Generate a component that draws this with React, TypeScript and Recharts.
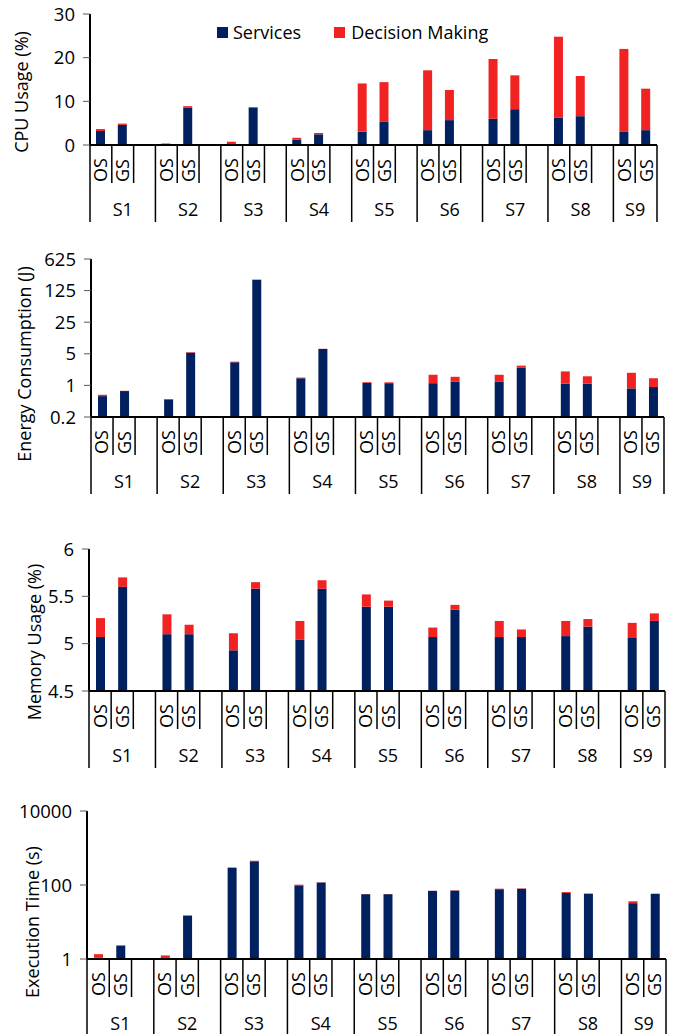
import React from "react";
import { BarChart, Bar, XAxis, YAxis, Legend } from "recharts";

const groups = ["S1", "S2", "S3", "S4", "S5", "S6", "S7", "S8", "S9"];
const variants = ["OS", "GS"];

// values are listed per scenario as OS, GS
const cpuServices = [3.2, 4.6, 0.1, 8.6, 0.2, 8.55, 1.2, 2.45, 3.05, 5.3, 3.4, 5.7, 6.0, 8.2, 6.3, 6.6, 3.0, 3.4];
const cpuDecision = [0.45, 0.3, 0.25, 0.3, 0.55, 0.15, 0.45, 0.3, 11.05, 9.1, 13.7, 6.9, 13.7, 7.75, 18.5, 9.2, 19.0, 9.5];

const energyServices = [0.58, 0.75, 0.49, 5.3, 3.25, 215, 1.44, 6.4, 1.14, 1.12, 1.12, 1.22, 1.22, 2.5, 1.09, 1.09, 0.86, 0.92];
const energyDecision = [0.04, 0.01, 0.01, 0.15, 0.1, 5, 0.05, 0.05, 0.04, 0.05, 0.6, 0.33, 0.5, 0.24, 0.95, 0.5, 1.04, 0.52];

const memoryServices = [5.07, 5.6, 5.1, 5.1, 4.93, 5.58, 5.04, 5.58, 5.39, 5.39, 5.07, 5.36, 5.07, 5.07, 5.08, 5.18, 5.06, 5.24];
const memoryDecision = [0.2, 0.1, 0.21, 0.1, 0.18, 0.07, 0.2, 0.09, 0.13, 0.065, 0.1, 0.05, 0.17, 0.08, 0.16, 0.08, 0.16, 0.08];

const timeServices = [1.1, 2.28, 1.05, 14.7, 290, 438, 98, 117, 56.5, 56.5, 69.4, 70.5, 77, 79, 61, 57.5, 32.3, 57.5];
const timeDecision = [0.25, 0.08, 0.2, 0.5, 10, 15, 4, 1, 0.5, 0.5, 0.5, 1.5, 2.5, 2, 3.5, 1.5, 4, 1];

const cpuTicks = [0, 10, 20, 30];
const energyTicks = [0.2, 1, 5, 25, 125, 625];
const memoryTicks = [4.5, 5, 5.5, 6];
const timeTicks = [1, 100, 10000];

const NAVY = "#002060";
const RED = "#F02222";
const FONT = "'Open Sans', sans-serif";

type Row = {
  group: string;
  label: string;
  services: number[] | null;
  decision: number[] | null;
};

// one slot per OS/GS bar plus an empty spacer slot between scenarios
function buildRows(services: number[], decision: number[], base: number): Row[] {
  const rows: Row[] = [];
  groups.forEach((g, gi) => {
    variants.forEach((v, vi) => {
      const s = services[gi * 2 + vi];
      const d = decision[gi * 2 + vi];
      rows.push({ group: g, label: v, services: [base, s], decision: [s, s + d] });
    });
    if (gi < groups.length - 1) {
      rows.push({ group: g, label: "", services: null, decision: null });
    }
  });
  return rows;
}

const HEAD = 14;
const AXIS_H = 80;

function CategoryTick(props: any) {
  const { x, y, payload, rows, slotW } = props;
  const i: number = payload.index;
  const row: Row = rows[i];
  const half = slotW / 2;
  const isLast = i === rows.length - 1;
  const groupEnd = row.label === "" || isLast;
  const groupStart = i === 0 || rows[i - 1].label === "";
  const span = row.group === groups[groups.length - 1] ? 2 : 3;
  const gx = x - half + (span * slotW) / 2;
  return (
    <g>
      {i === 0 && (
        <line x1={x - half} x2={x - half} y1={y} y2={y + 77} stroke="#000" strokeWidth={1.5} />
      )}
      <line
        x1={x + half}
        x2={x + half}
        y1={y}
        y2={y + (groupEnd ? 77 : 38)}
        stroke="#000"
        strokeWidth={1.5}
      />
      {row.label && (
        <text
          x={x}
          y={y + 37}
          transform={`rotate(-90 ${x} ${y + 37})`}
          dy="0.36em"
          fontSize={18}
          fill="#000"
        >
          {row.label}
        </text>
      )}
      {groupStart && (
        <text x={gx} y={y + 65} dy="0.36em" textAnchor="middle" fontSize={18} fill="#000">
          {row.group}
        </text>
      )}
    </g>
  );
}

function renderLegend() {
  const box = { width: 11, height: 11, display: "inline-block" };
  return (
    <div style={{ display: "flex", alignItems: "center", fontSize: 18, lineHeight: "20px", color: "#000", fontFamily: FONT, whiteSpace: "nowrap" }}>
      <span style={{ ...box, background: NAVY, marginRight: 5 }} />
      <span>Services</span>
      <span style={{ ...box, background: RED, marginLeft: 33, marginRight: 6 }} />
      <span>Decision Making</span>
    </div>
  );
}

interface PanelProps {
  top: number;
  bottom: number;
  left: number;
  right: number;
  rows: Row[];
  domain: [number, number];
  ticks: number[];
  log?: boolean;
  title: string;
  titleX: number;
  titleY: number;
  legend?: boolean;
}

function Panel(p: PanelProps) {
  const chartTop = p.top - HEAD;
  const height = HEAD + (p.bottom - p.top) + AXIS_H;
  const slotW = (p.right - p.left) / p.rows.length;
  const tx = p.titleX;
  const ty = p.titleY - chartTop;
  return (
    <div style={{ position: "absolute", left: 0, top: chartTop }}>
      <BarChart
        width={675}
        height={height}
        data={p.rows}
        margin={{ top: HEAD, right: 675 - p.right, bottom: 0, left: 0 }}
        barGap={-9}
      >
        <XAxis
          dataKey="label"
          interval={0}
          height={AXIS_H}
          tickSize={0}
          tickMargin={0}
          tickLine={false}
          axisLine={{ stroke: "#000", strokeWidth: 2 }}
          tick={(t: any) => <CategoryTick {...t} rows={p.rows} slotW={slotW} />}
        />
        <XAxis
          xAxisId="frame"
          orientation="top"
          dataKey="label"
          height={0}
          tick={false}
          tickLine={false}
          axisLine={{ stroke: "#000", strokeWidth: 2 }}
        />
        <YAxis
          type="number"
          scale={p.log ? "log" : "linear"}
          domain={p.domain}
          ticks={p.ticks}
          allowDataOverflow
          interval={0}
          width={p.left}
          tickSize={7}
          tickMargin={8}
          tick={{ fill: "#000", fontSize: 18.5 }}
          tickLine={{ stroke: "#595959" }}
          axisLine={{ stroke: "#000", strokeWidth: 2 }}
          label={{
            content: () => (
              <text
                x={tx}
                y={ty}
                transform={`rotate(-90 ${tx} ${ty})`}
                dy="0.36em"
                textAnchor="middle"
                fontSize={18}
                fill="#000"
              >
                {p.title}
              </text>
            ),
          }}
        />
        <YAxis
          yAxisId="frame"
          orientation="right"
          width={0}
          domain={[0, 1]}
          tick={false}
          tickLine={false}
          axisLine={{ stroke: "#000", strokeWidth: 2 }}
        />
        {p.legend && (
          <Legend
            verticalAlign="middle"
            align="center"
            layout="horizontal"
            content={renderLegend}
            wrapperStyle={{ left: 217, top: 22 - chartTop, width: "auto" }}
          />
        )}
        <Bar dataKey="services" name="Services" fill={NAVY} barSize={9} isAnimationActive={false} />
        <Bar dataKey="decision" name="Decision Making" fill={RED} barSize={9} isAnimationActive={false} />
      </BarChart>
    </div>
  );
}

export default function App() {
  return (
    <div
      style={{
        position: "absolute",
        left: 0,
        top: 0,
        width: 675,
        height: 1034,
        overflow: "hidden",
        background: "#fff",
        fontFamily: FONT,
      }}
    >
      <Panel
        top={14}
        bottom={145}
        left={90}
        right={657}
        rows={buildRows(cpuServices, cpuDecision, 0)}
        domain={[0, 30]}
        ticks={cpuTicks}
        title="CPU Usage (%)"
        titleX={22}
        titleY={92}
        legend
      />
      <Panel
        top={259}
        bottom={417}
        left={91}
        right={664}
        rows={buildRows(energyServices, energyDecision, 0.2)}
        domain={[0.2, 625]}
        ticks={energyTicks}
        log
        title="Energy Consumption (J)"
        titleX={25}
        titleY={364}
      />
      <Panel
        top={549}
        bottom={691}
        left={89}
        right={665}
        rows={buildRows(memoryServices, memoryDecision, 4.5)}
        domain={[4.5, 6]}
        ticks={memoryTicks}
        title="Memory Usage (%)"
        titleX={35}
        titleY={642}
      />
      <Panel
        top={811}
        bottom={959}
        left={87}
        right={666}
        rows={buildRows(timeServices, timeDecision, 1)}
        domain={[1, 10000]}
        ticks={timeTicks}
        log
        title="Execution Time (s)"
        titleX={33}
        titleY={922}
      />
    </div>
  );
}
